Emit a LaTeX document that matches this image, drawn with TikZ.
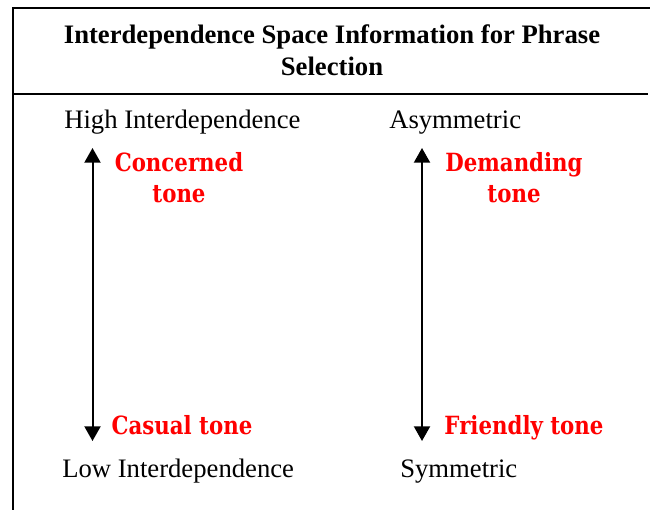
\documentclass[tikz,border=0pt]{standalone}
\usepackage{fontspec}
\setmainfont{Liberation Serif}
\newfontfamily\tonefont[FakeStretch=0.85]{DejaVu Serif}
\usepackage{xcolor}
\usepackage{tikz}
\usetikzlibrary{arrows.meta}
\tikzset{
  axislabel/.style={inner sep=0pt, anchor=base west, font=\fontsize{20pt}{24pt}\selectfont},
  tonelabel/.style={inner sep=0pt, align=center, text=red, font=\tonefont\bfseries\fontsize{18.8pt}{23.2pt}\selectfont},
}

\begin{document}
\begin{tikzpicture}[>={Triangle[width=12pt,length=11pt]}, x=0.75pt, y=-0.75pt]
                \useasboundingbox (0,0) rectangle (650,510);
                % Rahmen
                \draw[line width=1.6pt] (650,8) -- (13,8) -- (13,510);
                \draw[line width=1.4pt] (13,94) -- (648,94);
                % Titel
                \node[inner sep=0pt, align=center, font=\bfseries\fontsize{20pt}{24pt}\selectfont] (title) at (332,50)
                    {Interdependence Space Information for Phrase\\Selection};
                % Achse links
                \node[axislabel] (high) at (64,128) {High Interdependence};
                \node[axislabel] (low) at (62,477) {Low Interdependence};
                \coordinate (highEnd) at (92.5,148);
                \coordinate (lowEnd) at (92.5,441);
                \draw[<->, line width=1.5pt] (lowEnd) -- (highEnd);
                % Achse rechts
                \node[axislabel] (asym) at (389,128) {Asymmetric};
                \node[axislabel] (sym) at (400,477) {Symmetric};
                \coordinate (asymEnd) at (422,148);
                \coordinate (symEnd) at (422,441);
                \draw[<->, line width=1.5pt] (symEnd) -- (asymEnd);
                % Tonfall
                \node[tonelabel] (concerned) at (179,178) {Concerned\\tone};
                \node[tonelabel] (demanding) at (514,178) {Demanding\\tone};
                \node[tonelabel, anchor=base] (casual) at (182,434) {Casual tone};
                \node[tonelabel, anchor=base] (friendly) at (524,434) {Friendly tone};
            \end{tikzpicture}
\end{document}
